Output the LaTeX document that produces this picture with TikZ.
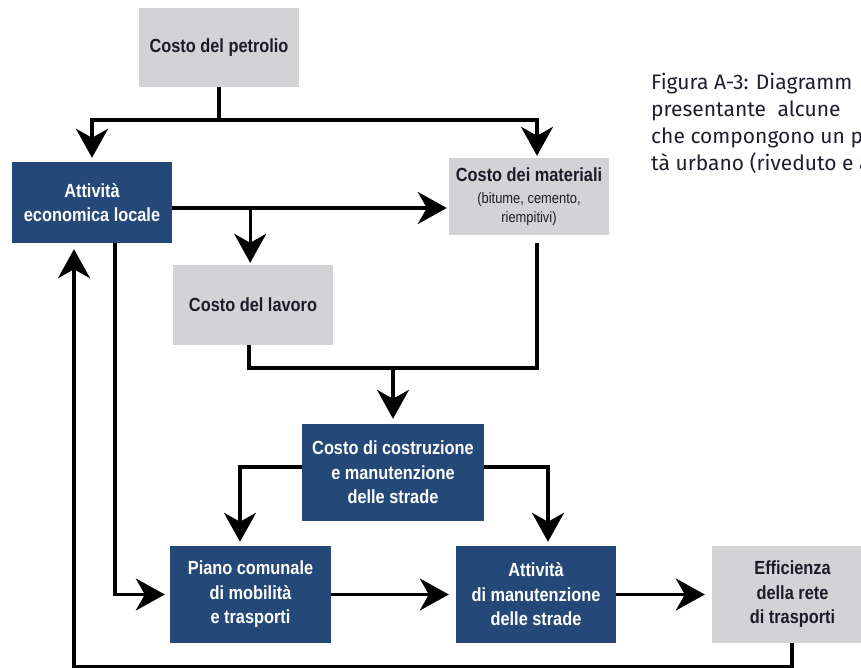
\documentclass[tikz,border=0pt]{standalone}
\usepackage{fontspec}
\usetikzlibrary{arrows.meta,calc}
\newfontfamily\boxfont{Liberation Sans}[FakeStretch=0.86]
\newfontfamily\capfont{Fira Sans}
\newcommand\subtxt{\mdseries\fontsize{15}{18}\selectfont}
\definecolor{navy}{RGB}{36,73,120}
\definecolor{lgray}{RGB}{211,211,213}
\definecolor{ink}{RGB}{28,28,40}
\definecolor{capink}{RGB}{30,30,45}
\tikzset{
  x=1pt, y=-1pt,
  base/.style={rectangle, inner sep=0pt, align=center,
    font=\boxfont\bfseries\fontsize{19}{24.5}\selectfont},
  bluebox/.style={base, fill=navy, text=white},
  graybox/.style={base, fill=lgray, text=ink},
  conn/.style={line width=3.1pt, black},
  arr/.style={conn, -{Stealth[length=29pt, width=32pt, inset=9pt]}},
}
\begin{document}
\begin{tikzpicture}
\useasboundingbox (0,0) rectangle (861,668);
\clip (0,0) rectangle (861,668);
% nodes
\node[graybox, minimum width=160pt, minimum height=79pt] (petrolio) at (219,47.5) {Costo del petrolio};
\node[bluebox, minimum width=160pt, minimum height=81pt] (attivita) at (92,202.5) {Attività\\economica locale};
\node[graybox, minimum width=160pt, minimum height=77pt] (materiali) at (529,196.5)
  {Costo dei materiali\\[-2pt]\subtxt (bitume, cemento,\\[-6pt]\subtxt riempitivi)};
\node[graybox, minimum width=160pt, minimum height=80pt] (lavoro) at (253,305) {Costo del lavoro};
\node[bluebox, minimum width=182pt, minimum height=97pt] (costruzione) at (393,472.5) {Costo di costruzione\\e manutenzione\\delle strade};
\node[bluebox, minimum width=161pt, minimum height=97pt] (piano) at (250.5,594.5) {Piano comunale\\di mobilità\\e trasporti};
\node[bluebox, minimum width=160pt, minimum height=97pt] (manut) at (536,594.5) {Attività\\di manutenzione\\delle strade};
\node[graybox, minimum width=161pt, minimum height=97pt] (effic) at (792.5,594.5) {Efficienza\\della rete\\di trasporti};
% caption (cut off at the right edge, as in the reference)
\node[anchor=base west, inner sep=0pt, align=left, text=capink,
  font=\capfont\fontsize{21}{27}\selectfont] (caption) at (651,171)
  {Figura A-3: Diagramm\\presentante\hspace{6pt} alcune\\che compongono un p\\tà urbano (riveduto e a};
% connectors
\coordinate (j1) at (219,120);
\draw[conn] (petrolio.south) -- (j1);
\draw[arr, shorten >=4pt] (j1) -| (attivita.north);
\draw[arr, shorten >=2pt] (j1) -| ([xshift=8pt]materiali.north);
\coordinate (a1) at ($(attivita.east)+(0,5.5)$);
\draw[arr, shorten >=2pt] (a1) -- (a1 -| materiali.west);
\coordinate (b1) at ($(a1)+(78,0)$);
\draw[arr, shorten >=2pt] (b1) -- (b1 |- lavoro.north);
\coordinate (j2) at (393,368);
\draw[conn] ([xshift=-4pt]lavoro.south) |- (j2) -| ([xshift=8pt,yshift=-8pt]materiali.south);
\draw[arr, shorten >=5pt] (j2) -- (costruzione.north);
\draw[arr, shorten >=4pt] ($(costruzione.west)+(0,-5.5)$) -| ([xshift=-10.5pt]piano.north);
\draw[arr, shorten >=4pt] ($(costruzione.east)+(0,-5.5)$) -| ([xshift=12pt]manut.north);
\draw[arr, shorten >=7pt] (piano.east) -- (manut.west);
\draw[arr, shorten >=7pt] (manut.east) -- (effic.west);
\draw[arr, shorten >=5pt] ([xshift=23pt]attivita.south) |- (piano.west);
\draw[arr, shorten >=6pt] ([xshift=-0.5pt]effic.south) -- ++(0,23) -| ([xshift=-18pt]attivita.south);
\end{tikzpicture}
\end{document}
